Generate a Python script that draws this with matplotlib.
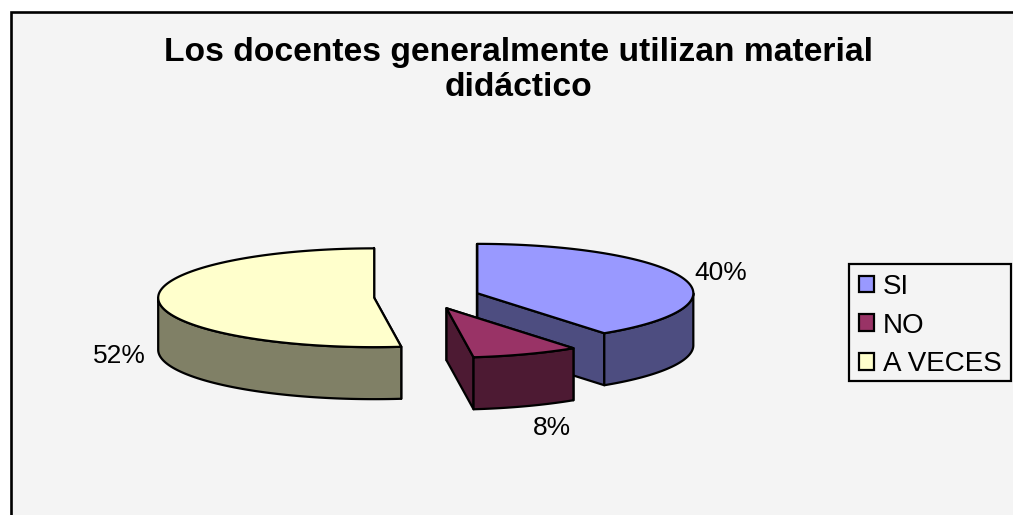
import numpy as np
import matplotlib
matplotlib.use('Agg')
import matplotlib.pyplot as plt
from matplotlib.patches import Patch, Polygon, Rectangle

plt.rcParams['font.family'] = ['Liberation Sans', 'DejaVu Sans']

# Data
categories = ['SI', 'NO', 'A VECES']
percent = [40, 8, 52]
top_colors = ['#9999FF', '#993366', '#FFFFCC']
side_colors = ['#4D4D80', '#4D1A33', '#808066']
title = 'Los docentes generalmente utilizan material\ndidáctico'

# Pie geometry in pixels
cx, cy = 427, 297
rx, ry = 216, 49.4
depth = 52
explode = 0.245
font = 19
line = 1.6


def rim(theta, ox, oy, dz=0):
    # clockwise from the top of the ellipse
    return ox + rx * np.sin(theta), oy - ry * np.cos(theta) + dz


fig = plt.figure(figsize=(10.13, 5.15), dpi=100)
ax = fig.add_axes([0, 0, 1, 1])
ax.set_xlim(0, 1013)
ax.set_ylim(515, 0)
ax.axis('off')

# Chart area, runs off the bottom and right of the image
ax.add_patch(Rectangle((11.3, 12), 1020, 520, fc='#F4F4F4', ec='black', lw=1.9))

edges = np.cumsum([0] + percent) / 100 * 2 * np.pi
for i in range(len(percent)):
    a0, a1 = edges[i], edges[i + 1]
    mid = (a0 + a1) / 2
    ox, oy = rim(mid, cx, cy)
    ox = cx + (ox - cx) * explode
    oy = cy + (oy - cy) * explode

    # Cut faces
    for a in (a0, a1):
        x, y = rim(a, ox, oy)
        quad = [(ox, oy), (x, y), (x, y + depth), (ox, oy + depth)]
        ax.add_patch(Polygon(quad, fc=side_colors[i], ec='black', lw=line, joinstyle='round'))

    # Outer wall, only the front half of the ellipse can be seen
    lo, hi = max(a0, np.pi / 2), min(a1, 3 * np.pi / 2)
    if hi > lo:
        t = np.linspace(lo, hi, 120)
        xs, ys = rim(t, ox, oy)
        wall = np.r_[np.c_[xs, ys], np.c_[xs, ys + depth][::-1]]
        ax.add_patch(Polygon(wall, fc=side_colors[i], ec='black', lw=line, joinstyle='round'))

    # Top
    t = np.linspace(a0, a1, 240)
    xs, ys = rim(t, ox, oy)
    top = np.r_[[[ox, oy]], np.c_[xs, ys]]
    ax.add_patch(Polygon(top, fc=top_colors[i], ec='black', lw=line, joinstyle='round'))

# Percent labels
label_pos = [(721, 273), (552, 428), (119, 356)]
for p, (x, y) in zip(percent, label_pos):
    ax.text(x, y, f'{p}%', ha='center', va='center', fontsize=font, color='black')

ax.text(518, 70, title, ha='center', va='center', fontsize=24.2, fontweight='bold',
        color='black', linespacing=1.2)

# Legend box drawn apart so its size can match
ax.add_patch(Rectangle((849, 264), 162, 117, fc='#F4F4F4', ec='black', lw=line))
handles = [Patch(fc=c, ec='black', lw=line) for c in top_colors]
leg = ax.legend(handles, categories, loc='upper left', bbox_to_anchor=(851, 266),
                bbox_transform=ax.transData, fontsize=20, frameon=False, borderaxespad=0,
                handlelength=0.54, handleheight=0.54, handletextpad=0.34,
                labelspacing=0.46, borderpad=0.28)

fig.savefig('out.png', dpi=100)
